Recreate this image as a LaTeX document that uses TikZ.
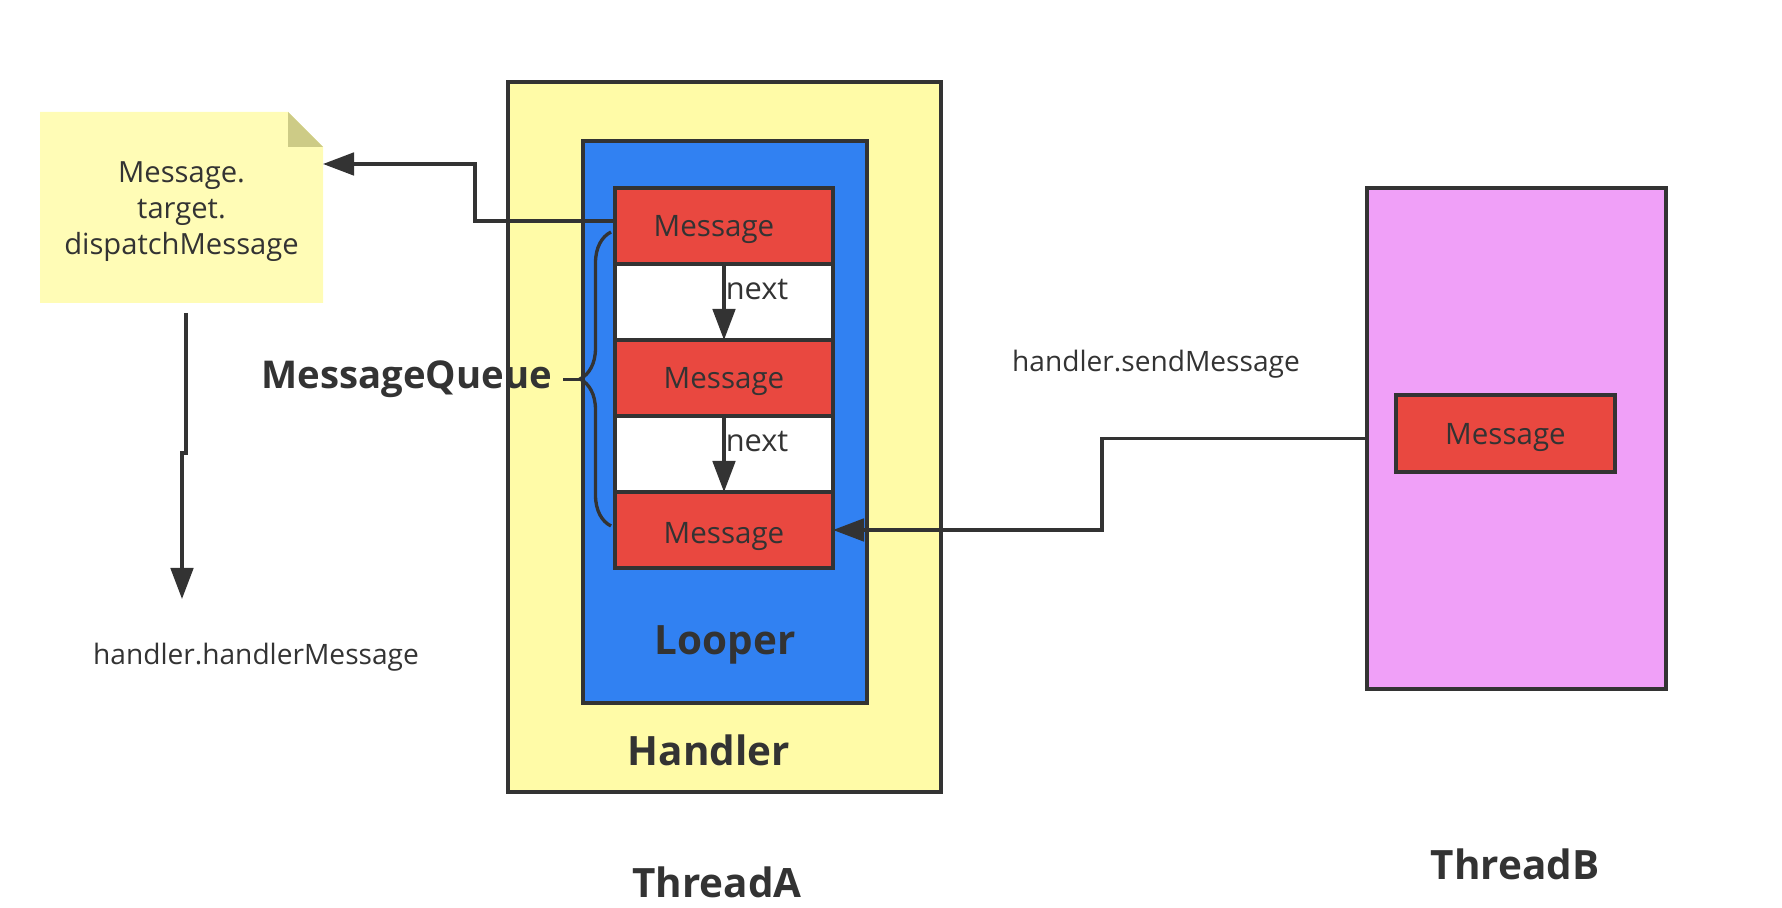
\documentclass[tikz,border=0pt]{standalone}
\usepackage{fontspec}
\setmainfont{Open Sans}
\usetikzlibrary{arrows.meta,decorations.pathreplacing,positioning}
\definecolor{linegray}{HTML}{333333}
\definecolor{handleryellow}{HTML}{FFFBA7}
\definecolor{noteyellow}{HTML}{FFFCB6}
\definecolor{notefold}{HTML}{CDCB86}
\definecolor{looperblue}{HTML}{3181F2}
\definecolor{msgred}{HTML}{E94840}
\definecolor{threadpink}{HTML}{F0A0F8}
\begin{document}
\begin{tikzpicture}[inner sep=0pt,outer sep=0pt,color=linegray,
box/.style={draw=linegray,rectangle,line width=2pt},
msgbox/.style={box,fill=msgred,minimum width=4.36cm,minimum height=1.52cm,text depth=0pt,font=\fontsize{16.8}{20}\selectfont},
nextbox/.style={box,fill=white,minimum width=4.36cm,minimum height=1.52cm},
biglabel/.style={font=\fontsize{23}{27}\selectfont\bfseries},
smalltext/.style={font=\fontsize{16}{19}\selectfont},
flow/.style={line width=1.9pt,-{Triangle[length=0.62cm,width=0.45cm]}}]
\useasboundingbox (0,0) rectangle (35.64,18.16);
% note
\draw (3.63,14.01) node[minimum width=5.66cm,minimum height=3.82cm] (note) {};
\fill[noteyellow] (note.north west) -- ([xshift=-7mm]note.north east) -- ([yshift=-7mm]note.north east) -- (note.south east) -- (note.south west) -- cycle;
\fill[notefold] ([xshift=-7mm]note.north east) -- ([xshift=-7mm,yshift=-7mm]note.north east) -- ([yshift=-7mm]note.north east) -- cycle;
\node[align=center,font=\fontsize{16.6}{20.6}\selectfont] (notetext) at ([yshift=-0.8mm]note.center) {Message.\\target.\\dispatchMessage};
% ThreadA
\draw (14.49,9.42) node[box,fill=handleryellow,minimum width=8.66cm,minimum height=14.2cm] (handler) {};
\draw (14.50,9.72) node[box,fill=looperblue,minimum width=5.68cm,minimum height=11.24cm] (looper) {};
\draw (14.48,13.64) node[msgbox] (msg1) {\hspace*{-4mm}Message};
\node[nextbox,below=0pt of msg1] (gap1) {};
\node[msgbox,below=0pt of gap1] (msg2) {Message};
\node[nextbox,below=0pt of msg2] (gap2) {};
\node[msgbox,below=0pt of gap2] (msg3) {\raisebox{-1mm}{Message}};
\draw[flow] (msg1.south) -- node[pos=0.34,right=1pt,font=\fontsize{17.5}{20}\selectfont] {next} (msg2.north);
\draw[flow] (msg2.south) -- node[pos=0.34,right=1pt,font=\fontsize{17.5}{20}\selectfont] {next} (msg3.north);
\draw (14.5,5.26) node[biglabel] (looperlabel) {Looper};
\draw (14.18,3.16) node[biglabel] (handlerlabel) {Handler};
\draw (14.34,0.52) node[biglabel] (threadAlabel) {ThreadA};
% queue brace
\draw[line width=1.9pt,decorate,decoration={brace,amplitude=0.62cm}] ([xshift=-0.8mm,yshift=0.8mm]msg3.west) -- ([xshift=-0.8mm,yshift=-1.2mm]msg1.west);
\coordinate (qtip) at (11.60,10.57);
\draw[line width=1.9pt] (qtip) -- ++(-0.34,0) node[left=0.22cm,biglabel,font=\fontsize{21.8}{26}\selectfont\bfseries] (queuelabel) {MessageQueue};
% ThreadB
\draw (30.33,9.39) node[box,fill=threadpink,minimum width=5.98cm,minimum height=10.02cm] (threadB) {};
\draw (30.11,9.49) node[msgbox,minimum width=4.38cm,minimum height=1.54cm] (msgB) {Message};
\draw (30.30,0.88) node[biglabel] (threadBlabel) {ThreadB};
% connectors
\draw[flow] ([yshift=1mm]msg1.west) -- ++(-2.8,0) |- ([yshift=8.7mm]note.east);
\draw[flow] ([xshift=0.9mm,yshift=-2mm]note.south) -- ++(0,-2.8) -- ++(-0.08,0) -- ++(0,-2.92) coordinate (handled);
\draw (5.12,5.02) node[smalltext] (handledtext) {handler.handlerMessage};
\draw[flow] (threadB.west) -- ++(-5.3,0) |- (msg3.east);
\draw (23.12,10.88) node[smalltext] (sendtext) {handler.sendMessage};
\end{tikzpicture}
\end{document}
